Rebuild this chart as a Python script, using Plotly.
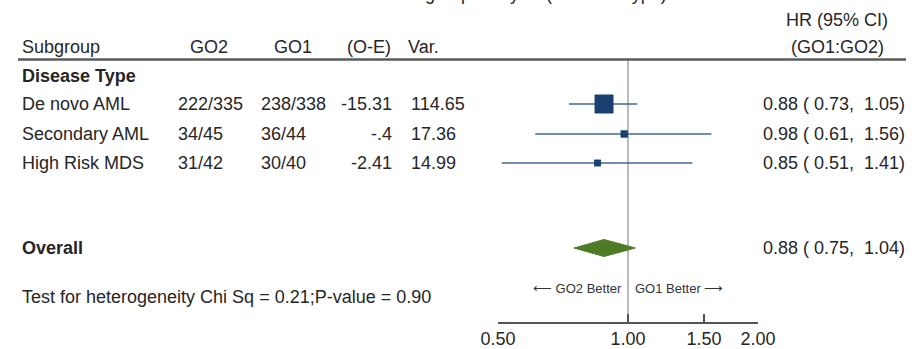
import plotly.graph_objects as go

# ---- data -------------------------------------------------------------
subgroups = ["De novo AML", "Secondary AML", "High Risk MDS"]
go2_events = ["222/335", "34/45", "31/42"]
go1_events = ["238/338", "36/44", "30/40"]
o_minus_e = ["-15.31", "-.4", "-2.41"]
variance = [114.65, 17.36, 14.99]
hr = [0.88, 0.98, 0.85]
hr_low = [0.73, 0.61, 0.51]
hr_high = [1.05, 1.56, 1.41]

overall_hr = 0.88
overall_low = 0.75
overall_high = 1.04

x_ticks = [0.5, 1.0, 1.5, 2.0]
x_tick_labels = ["0.50", "1.00", "1.50", "2.00"]

heterogeneity = "Test for heterogeneity Chi Sq = 0.21;P-value = 0.90"

# ---- layout constants (vertical positions in pixels from the top) -----
W, H = 912, 349
AXIS_Y = 322
Y_HEADER = 47
Y_HR_HEAD = 20
Y_RULE = 59.5
Y_SECTION = 76
Y_ROWS = [104, 134, 163]
Y_OVERALL = 248
Y_BETTER = 288
Y_TEST = 297
DIAMOND_HALF = 8.5

FONT = "Liberation Sans, Arial, sans-serif"
TXT = "#262626"
FS = 18

def fmt_ci(h, l, u):
    return f"{h:.2f} (\u00a0{l:.2f},\u00a0\u00a0{u:.2f})"

fig = go.Figure()

# confidence interval whiskers
ci_x, ci_y = [], []
for l, u, y in zip(hr_low, hr_high, Y_ROWS):
    ci_x += [l, u, None]
    ci_y += [y, y, None]
fig.add_trace(go.Scatter(x=ci_x, y=ci_y, mode="lines",
                         line=dict(color="#3f6894", width=1.4),
                         hoverinfo="skip", showlegend=False))

# point estimates, box area scaled by weight (variance)
scale = 19.0 / max(variance) ** 0.5
fig.add_trace(go.Scatter(x=hr, y=Y_ROWS, mode="markers",
                         marker=dict(symbol="square",
                                     size=[scale * v ** 0.5 for v in variance],
                                     color="#17406e", opacity=1,
                                     line=dict(width=0)),
                         showlegend=False))

# pooled estimate diamond
fig.add_trace(go.Scatter(
    x=[overall_low, overall_hr, overall_high, overall_hr, overall_low],
    y=[Y_OVERALL, Y_OVERALL - DIAMOND_HALF, Y_OVERALL,
       Y_OVERALL + DIAMOND_HALF, Y_OVERALL],
    mode="lines", fill="toself", fillcolor="#4f7b27",
    line=dict(color="#4f7b27", width=1), showlegend=False))

# null-effect reference line
fig.add_shape(type="line", xref="x", yref="y", x0=1, x1=1,
              y0=Y_RULE, y1=AXIS_Y, line=dict(color="#8c8c8c", width=1.2),
              layer="below")

# rule under the column headings
fig.add_shape(type="line", xref="paper", yref="y", x0=18 / W, x1=906 / W,
              y0=Y_RULE, y1=Y_RULE, line=dict(color="#5a5a5a", width=2.5))

ann = []

def text(x, y, s, anchor="left", size=FS, bold=False, color=TXT, yanchor="middle"):
    # annotation boxes carry ~2px of padding; shift so the glyphs land on x
    pad = {"left": -2, "right": 2, "center": 0}[anchor]
    ann.append(dict(xref="paper", yref="y", x=(x + pad) / W, y=y,
                    text=f"<b>{s}</b>" if bold else s,
                    showarrow=False, xanchor=anchor, yanchor=yanchor,
                    font=dict(family=FONT, size=size, color=color)))

# title (runs off the top edge)
text(465, 6, "Overall survival: subgroup analysis (Disease Type)",
     anchor="center", size=18, yanchor="bottom")

# column headings
text(22, Y_HEADER, "Subgroup")
text(209, Y_HEADER, "GO2", anchor="center")
text(293, Y_HEADER, "GO1", anchor="center")
text(369, Y_HEADER, "(O-E)", anchor="center")
text(408, Y_HEADER, "Var.")
text(837, Y_HR_HEAD, "HR (95% CI)", anchor="center")
text(837, Y_HEADER, "(GO1:GO2)", anchor="center")

text(22, Y_SECTION, "Disease Type", bold=True)

for i, y in enumerate(Y_ROWS):
    text(22, y, subgroups[i])
    text(178, y, go2_events[i])
    text(261, y, go1_events[i])
    text(392, y, o_minus_e[i], anchor="right")
    text(411, y, f"{variance[i]:.2f}")
    text(905, y, fmt_ci(hr[i], hr_low[i], hr_high[i]), anchor="right")

text(22, Y_OVERALL, "Overall", bold=True)
text(905, Y_OVERALL, fmt_ci(overall_hr, overall_low, overall_high), anchor="right")

text(22, Y_TEST, heterogeneity)

text(622, Y_BETTER, "\u27f5 GO2 Better", anchor="right", size=13, color="#333")
text(635, Y_BETTER, "GO1 Better \u27f6", anchor="left", size=13, color="#333")

fig.update_layout(
    width=W, height=H,
    margin=dict(l=0, r=0, t=0, b=H - AXIS_Y, pad=0, autoexpand=False),
    paper_bgcolor="white", plot_bgcolor="white",
    annotations=ann,
    showlegend=False,
    xaxis=dict(type="log", domain=[498 / W, 758 / W],
               range=[-0.30103, 0.30103], automargin=False,
               tickvals=x_ticks, ticktext=x_tick_labels,
               ticks="inside", ticklen=8, tickwidth=1.5, tickcolor="#555",
               showline=True, linecolor="#555", linewidth=1.5,
               showgrid=False, zeroline=False,
               tickfont=dict(family=FONT, size=FS, color=TXT)),
    yaxis=dict(range=[AXIS_Y, 0], visible=False, showgrid=False,
               zeroline=False, automargin=False),
)

fig.write_html("out.html")
